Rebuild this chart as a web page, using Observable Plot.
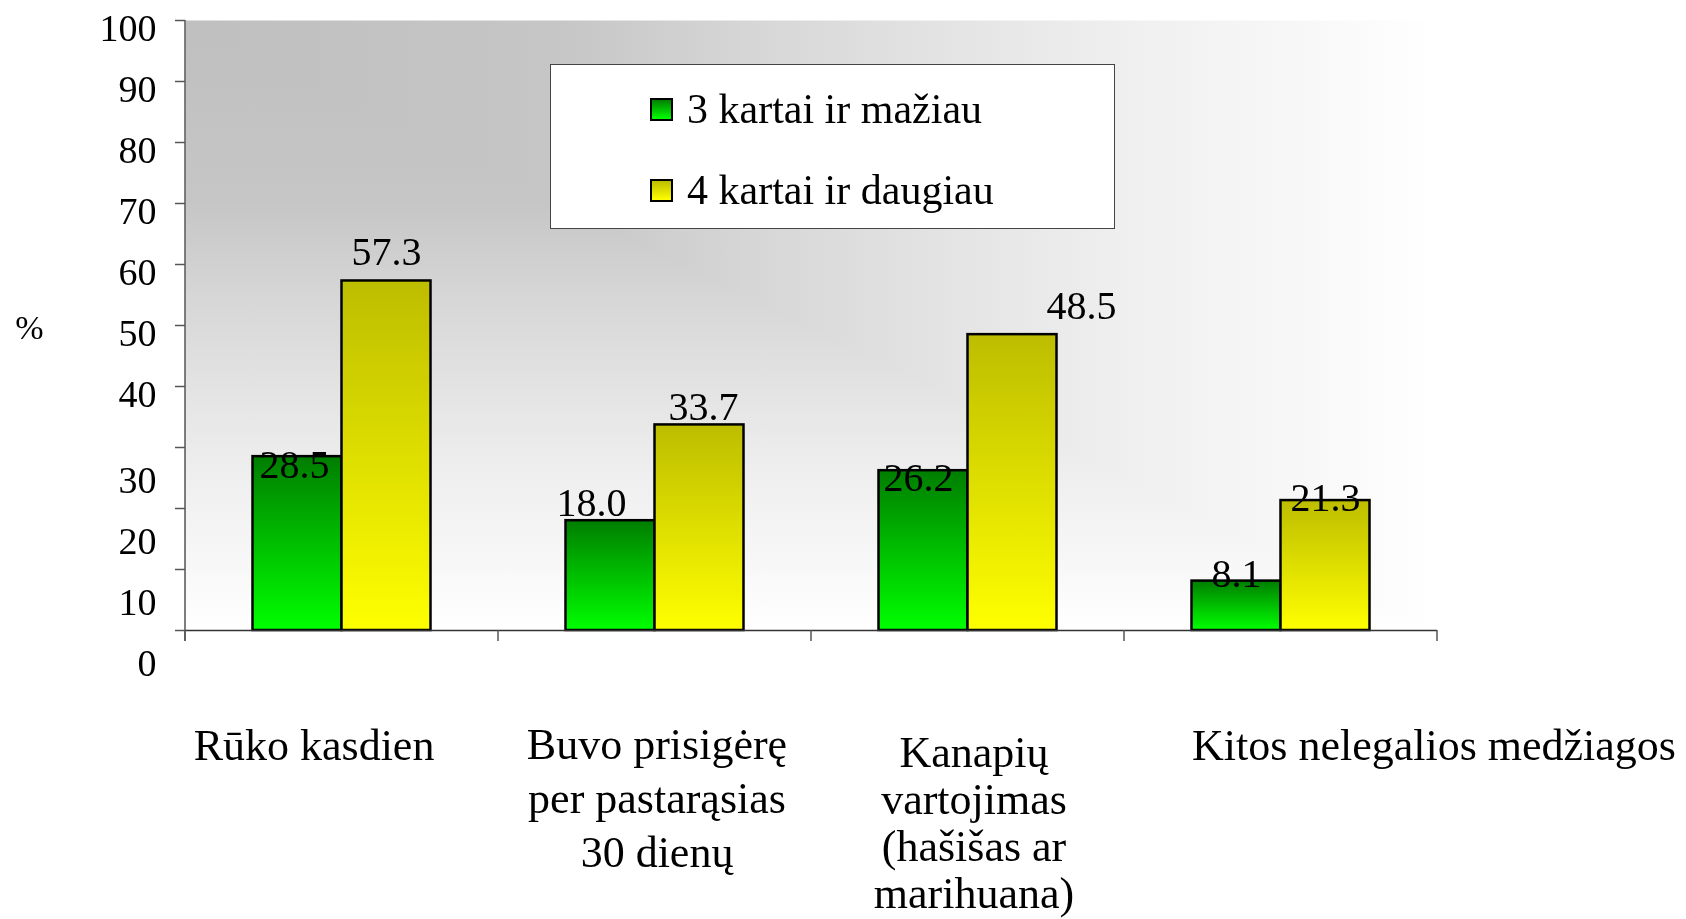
<!DOCTYPE html>
<html><head><meta charset="utf-8">
<script src="https://cdn.jsdelivr.net/npm/d3@7"></script>
<script src="https://cdn.jsdelivr.net/npm/@observablehq/plot@0.6"></script>
<style>
html,body{margin:0;padding:0;background:#fff;}
#wrap{position:relative;width:1686px;height:919px;overflow:hidden;font-family:"Liberation Serif","DejaVu Serif",serif;}
#legend{position:absolute;left:550px;top:64px;width:565px;height:165px;border:1px solid #444;background:#fff;box-sizing:border-box;}
.item{position:absolute;left:99px;height:46px;display:flex;align-items:center;font-size:42px;color:#000;white-space:nowrap;}
.sw{width:19px;height:19px;border:2px solid #000;margin-right:14px;flex:none;}
</style></head><body><div id="wrap"><div id="legend"></div></div>
<script>
// ---- data ----
const categories = ["Rūko kasdien", "Buvo prisigėrę\nper pastarąsias\n30 dienų", "Kanapių\nvartojimas\n(hašišas ar\nmarihuana)", "Kitos nelegalios medžiagos"];
const seriesNames = ["3 kartai ir mažiau", "4 kartai ir daugiau"];
const lowValues = [28.5, 18.0, 26.2, 8.1];
const highValues = [57.3, 33.7, 48.5, 21.3];
const yTickValues = [0, 10, 20, 30, 40, 50, 60, 70, 80, 90, 100];
const yAxisTitle = "%";

// ---- styling ----
const FONT = "Liberation Serif, DejaVu Serif, serif";
const seriesFill = ["url(#gLow)", "url(#gHigh)"];
const seriesCss = ["linear-gradient(#008000,#00ff00)", "linear-gradient(#bdbd00,#ffff00)"];
const barW = 89;                       // px width of each bar
const half = 313 / 2;                  // half band step
const lowNudge = [[-3, 9], [-19, -18], [-5, 8], [0, -7]];
const highNudge = [[0, -29], [4, -18], [69, -28], [0, -2]];
const catDx = [-28, 2, 6, 153];
const catDy = [0, 0, 13, 0];
const catLH = [1.25, 1.23, 1.07, 1.25];
const bgStops = [[0, "#bfbfbf"], [0.3, "#c6c6c6"], [0.45, "#d6d6d6"], [0.6, "#e3e3e3"], [0.75, "#efefef"], [0.9, "#f8f8f8"], [1, "#ffffff"]];

const rows = categories.flatMap((c, i) => [
  {cat: c, series: seriesNames[0], value: lowValues[i], k: 0, i},
  {cat: c, series: seriesNames[1], value: highValues[i], k: 1, i}
]);
const low = rows.filter(d => d.k === 0);
const high = rows.filter(d => d.k === 1);

const defs = () => {
  const d = d3.create("svg:defs");
  const lin = (id, stops, x2, y2) => {
    const g = d.append("linearGradient").attr("id", id).attr("x1", 0).attr("y1", 0).attr("x2", x2).attr("y2", y2);
    stops.forEach(([o, c]) => g.append("stop").attr("offset", o).attr("stop-color", c));
  };
  lin("gLow", [[0, "#007d00"], [1, "#00ff00"]], 0, 1);
  lin("gHigh", [[0, "#bdbd00"], [1, "#ffff00"]], 0, 1);
  lin("gBgX", bgStops, 1, 0);
  lin("gBgY", bgStops, 0, 1);
  return d.node();
};

const axisLines = (index, scales, values, dims) => {
  const {x, y} = scales;
  const g = d3.create("svg:g").attr("stroke", "#555").attr("stroke-width", 1.5);
  const left = dims.marginLeft;
  const step = x(categories[1]) - x(categories[0]);
  g.append("line").attr("x1", left).attr("x2", left).attr("y1", y(100)).attr("y2", y(0) + 11);
  const bounds = categories.map(c => x(c)).concat([x(categories[categories.length - 1]) + step]);
  bounds.forEach(b => g.append("line").attr("x1", b).attr("x2", b).attr("y1", y(0)).attr("y2", y(0) + 11));
  return g.node();
};

const valueLabel = (d, n, base) => Plot.text([d], {
  x: "cat", y: "value", text: v => v.value.toFixed(1),
  dx: base + n[0], dy: n[1], lineAnchor: "middle", fontSize: 40, fill: "#000"
});

const plot = Plot.plot({
  width: 1686, height: 919,
  marginLeft: 185, marginRight: 249, marginTop: 20, marginBottom: 289,
  style: {fontFamily: FONT, color: "#000", background: "transparent", overflow: "visible"},
  x: {type: "band", domain: categories, padding: 0, label: null},
  y: {domain: [0, 100], label: null},
  marks: [
    defs,
    Plot.frame({fill: "url(#gBgX)", stroke: null}),
    Plot.frame({fill: "url(#gBgY)", stroke: null, mixBlendMode: "lighten"}),
    Plot.barY(low, {x: "cat", y: "value", fill: seriesFill[0], stroke: "#000", strokeWidth: 2.5, insetLeft: half - barW, insetRight: half}),
    Plot.barY(high, {x: "cat", y: "value", fill: seriesFill[1], stroke: "#000", strokeWidth: 2.5, insetLeft: half, insetRight: half - barW}),
    Plot.ruleY([0], {stroke: "#333", strokeWidth: 1.5}),
    axisLines,
    Plot.axisY({ticks: yTickValues, tickSize: 10, tickFormat: () => "", stroke: "#555", strokeWidth: 1.5, label: null}),
    Plot.axisY({ticks: yTickValues.filter(v => v >= 40), tickSize: 0, tickPadding: 29, dy: 8, fontSize: 38, label: null}),
    Plot.axisY({ticks: yTickValues.filter(v => v < 40), tickSize: 0, tickPadding: 29, dy: 33, fontSize: 38, label: null}),
    Plot.text([yAxisTitle], {frameAnchor: "left", dx: -156, dy: 3, fontSize: 34, textAnchor: "middle", fill: "#000"}),
    ...low.map((d, i) => valueLabel(d, lowNudge[i], -barW / 2)),
    ...high.map((d, i) => valueLabel(d, highNudge[i], barW / 2)),
    ...categories.map((c, i) => Plot.axisX([c], {tickSize: 0, tickPadding: 90 + catDy[i], dx: catDx[i], fontSize: 44, lineHeight: catLH[i], label: null}))
  ]
});
document.getElementById("wrap").prepend(plot);

const legend = d3.select("#legend");
seriesNames.forEach((s, k) => {
  const it = legend.append("div").attr("class", "item").style("top", (k === 0 ? 21 : 102) + "px");
  it.append("div").attr("class", "sw").style("background", seriesCss[k]);
  it.append("span").text(s);
});
</script></body></html>
